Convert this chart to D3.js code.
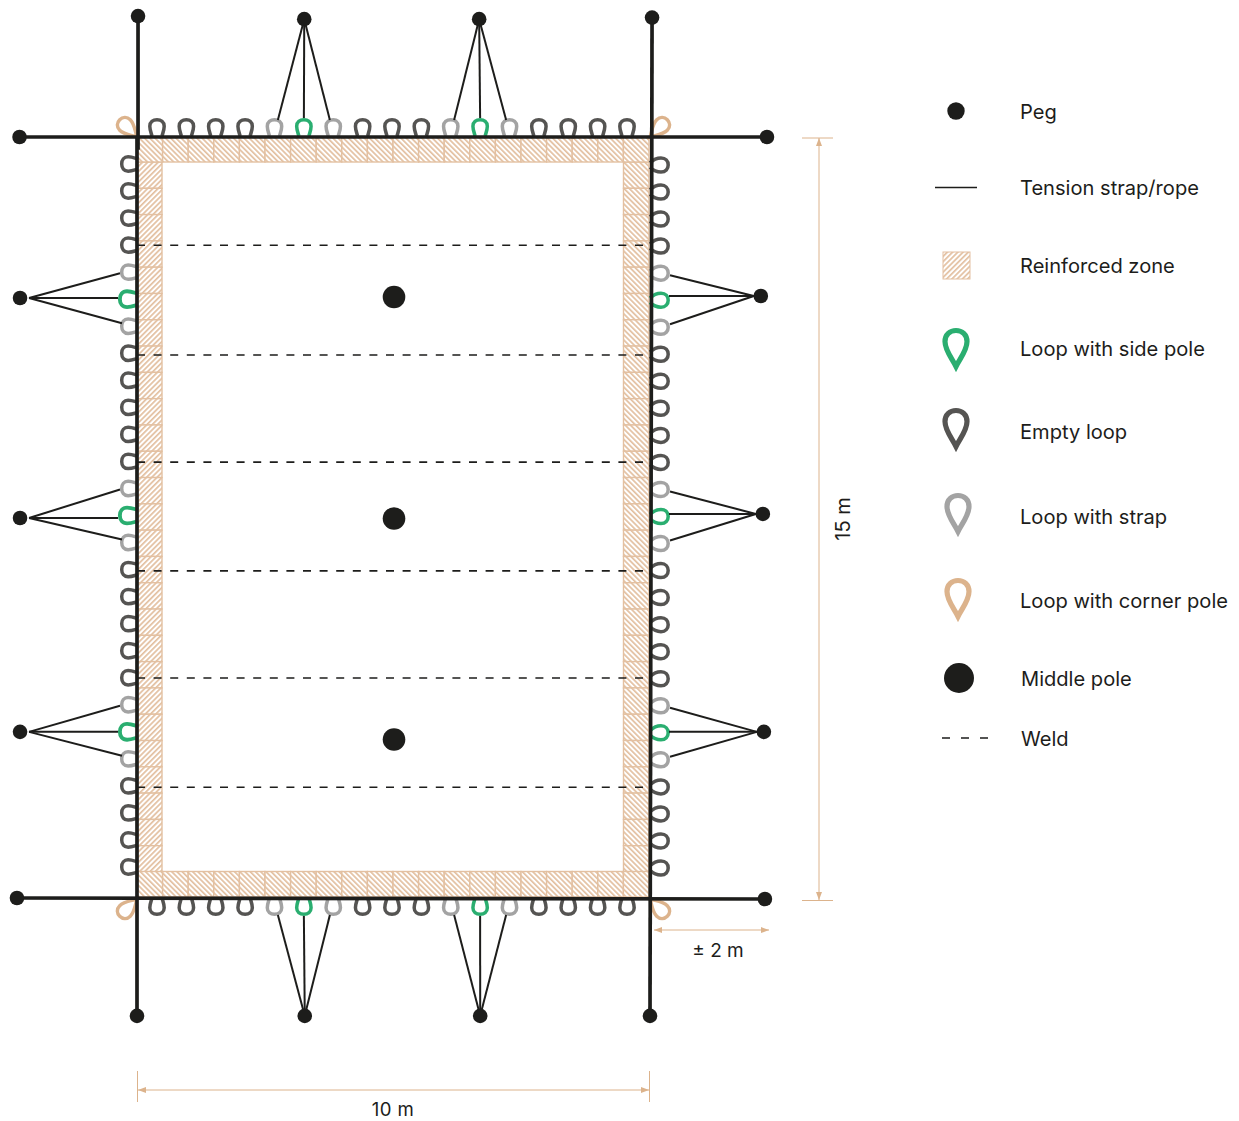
<!DOCTYPE html>
<html><head><meta charset="utf-8">
<script src="https://cdnjs.cloudflare.com/ajax/libs/d3/7.8.5/d3.min.js"></script>
<style>html,body{margin:0;padding:0;background:#fff}svg{display:block}text{font-family:Inter,"Open Sans",sans-serif;fill:#1d1d1b}</style>
</head><body><svg id="c" width="1239" height="1121"></svg>
<script>
// Values in metres unless noted; E empty, S strap, G side pole
const edgeLoopsTopBottom = "EEEESGSEEESGSEEEE".split("");
const edgeLoopsSides = "EEEESGSEEEEESGSEEEEESGSEEEE".split("");
const cornerPegs = [[0.02,-2.38],[-2.29,0],[10.04,-2.35],[12.28,0],[-2.34,14.98],[0,17.3],[12.24,15],[10,17.3]];
const frameLines = [[[-2.29,0],[12.28,0]],[[-2.34,14.98],[12.24,15]],[[0.02,-2.38],[0.02,0.25]],[[0,0],[0,17.3]],[[10.04,-2.35],[10,17.3]]];
const weldPositions = [2.13,4.29,6.40,8.54,10.65,12.80];
const middlePoles = [3.15,7.51,11.86];
const fansTop = [{peg:[3.26,-2.32],at:5},{peg:[6.67,-2.32],at:11}];
const fansBottom = [{peg:[3.27,17.3],at:5},{peg:[6.69,17.3],at:11}];
const fansLeft = [{peg:[-2.28,3.17],at:5},{peg:[-2.28,7.5],at:13},{peg:[-2.28,11.71],at:21}];
const fansRight = [{peg:[12.16,3.13],at:5},{peg:[12.2,7.42],at:13},{peg:[12.22,11.71],at:21}];
const zoneCellsLong = 20, zoneCellsShort = 27;
const legendItems = ["Peg","Tension strap/rope","Reinforced zone","Loop with side pole","Empty loop","Loop with strap","Loop with corner pole","Middle pole","Weld"];
const dimLabels = ["15 m","± 2 m","10 m"];

const svg = d3.select("#c");
const BLACK="#1d1d1b", DARK="#555452", GREY="#a3a3a3", GREEN="#2aae70", TAN="#dcb38c", HATCH="#e3c0a1";
const x = d3.scaleLinear().domain([0,10]).range([137,650]);
const y = d3.scaleLinear().domain([0,15]).range([137,899]);
const loopX = d3.scalePoint().domain(d3.range(17)).range([157,627]);
const loopYL = d3.scalePoint().domain(d3.range(27)).range([164,867]);
const loopYR = d3.scalePoint().domain(d3.range(27)).range([165,868]);
const col = {E:DARK,S:GREY,G:GREEN};

const defs = svg.append("defs");
function hatch(id,a){
  const p=defs.append("pattern").attr("id",id).attr("patternUnits","userSpaceOnUse").attr("width",3.7).attr("height",3.7).attr("patternTransform",`rotate(${a})`);
  p.append("rect").attr("width",3.7).attr("height",3.7).attr("fill","#fff");
  p.append("rect").attr("width",1.7).attr("height",3.7).attr("fill",HATCH);
}
hatch("hA",-45); hatch("hB",45);

// reinforced zone
const zone = svg.append("g");
function cells(band,cross,horizontal,fill){
  zone.selectAll(null).data(band.domain()).join("rect")
    .attr("x",d=>horizontal?band(d):cross[0]).attr("y",d=>horizontal?cross[0]:band(d))
    .attr("width",d=>horizontal?band.bandwidth():cross[1]-cross[0]).attr("height",d=>horizontal?cross[1]-cross[0]:band.bandwidth())
    .attr("fill",`url(#${fill})`).attr("stroke",HATCH).attr("stroke-width",1.4);
}
const bandH=d3.scaleBand().domain(d3.range(zoneCellsLong)).range([137,649]);
const bandV=d3.scaleBand().domain(d3.range(zoneCellsShort)).range([162,872]);
cells(bandV,[137,162],false,"hB");
cells(bandV,[623.5,649],false,"hA");
cells(bandH,[137,162],true,"hA");
cells(bandH,[871.5,897],true,"hA");

// welds
svg.append("g").selectAll("line").data(weldPositions).join("line")
  .attr("x1",x(0)).attr("x2",x(10)).attr("y1",d=>y(d)).attr("y2",d=>y(d))
  .attr("stroke",BLACK).attr("stroke-width",1.6).attr("stroke-dasharray","8 8.6");

// middle poles
svg.append("g").selectAll("circle").data(middlePoles).join("circle")
  .attr("cx",x(5.01)).attr("cy",d=>y(d)).attr("r",11.3).attr("fill",BLACK);

// loops
function openLoop(b,w,h){const p=d3.path();p.moveTo(-b,1);p.bezierCurveTo(-w+1,-3,-w,-h*0.35,-w,-h*0.58);p.bezierCurveTo(-w,-h*0.85,-w*0.55,-h,0,-h);p.bezierCurveTo(w*0.55,-h,w,-h*0.85,w,-h*0.58);p.bezierCurveTo(w,-h*0.35,w-1,-3,b,1);return p.toString();}
const wideLoop=openLoop(5,7.2,15.3), tipLoop=openLoop(2.2,7,17.2);
function loops(data,pos,rot,shape){
  svg.append("g").selectAll("path").data(data).join("path")
    .attr("d",shape).attr("fill","none").attr("stroke",d=>col[d]).attr("stroke-width",3.5)
    .attr("transform",(d,i)=>{const [a,b]=pos(i);return `translate(${a},${b}) rotate(${rot}) ${d==="G"&&rot===-90?"scale(1.1,1.12)":""}`;});
}
loops(edgeLoopsTopBottom,i=>[loopX(i),135],0,wideLoop);
loops(edgeLoopsTopBottom,i=>[loopX(i),899],180,wideLoop);
loops(edgeLoopsSides,i=>[137,loopYL(i)],-90,wideLoop);
loops(edgeLoopsSides,i=>[651,loopYR(i)],90,tipLoop);

// teardrop
const dropPath=(()=>{const p=d3.path();p.moveTo(0,0);p.bezierCurveTo(-4,-8,-11,-16,-11,-25);p.bezierCurveTo(-11,-32,-6,-36,0,-36);p.bezierCurveTo(6,-36,11,-32,11,-25);p.bezierCurveTo(11,-16,4,-8,0,0);p.closePath();return p.toString();})();
// corner loops
const cornerLoops=[[0,0,-45],[10,0,45],[0,15,-135],[10,15,135]];
svg.append("g").selectAll("path").data(cornerLoops).join("path")
  .attr("d",dropPath).attr("fill","none").attr("stroke",TAN).attr("stroke-width",3.4).attr("vector-effect","non-scaling-stroke")
  .attr("transform",d=>`translate(${x(d[0])},${y(d[1])}) rotate(${d[2]}) scale(0.68)`);

// fans
const thin = svg.append("g").attr("stroke",BLACK).attr("stroke-width",2).attr("fill","none");
function fan(peg,ends){ends.forEach(e=>thin.append("line").attr("x1",peg[0]).attr("y1",peg[1]).attr("x2",e[0]).attr("y2",e[1]));}
fansTop.forEach(f=>{const c=loopX(f.at);fan([x(f.peg[0]),y(f.peg[1])],[[c-26,120],[c,118],[c+26,120]]);});
fansBottom.forEach(f=>{const c=loopX(f.at);fan([x(f.peg[0]),y(f.peg[1])],[[c-26,915],[c,916],[c+26,915]]);});
fansLeft.forEach(f=>{const c=loopYL(f.at),a=[x(f.peg[0])+9,y(f.peg[1])];fan(a,[[120,c-26],[118,a[1]],[122,c+24]]);});
fansRight.forEach(f=>{const c=loopYR(f.at),a=[x(f.peg[0])-7,y(f.peg[1])];fan(a,[[670,c-25],[669,a[1]],[670,c+24]]);});

// frame
svg.append("g").selectAll("line").data(frameLines).join("line")
  .attr("x1",d=>x(d[0][0])).attr("y1",d=>y(d[0][1])).attr("x2",d=>x(d[1][0])).attr("y2",d=>y(d[1][1]))
  .attr("stroke",BLACK).attr("stroke-width",3.7);

// pegs
const allPegs=[...cornerPegs,...[...fansTop,...fansBottom,...fansLeft,...fansRight].map(f=>f.peg)];
svg.append("g").selectAll("circle").data(allPegs).join("circle")
  .attr("cx",d=>x(d[0])).attr("cy",d=>y(d[1])).attr("r",7.3).attr("fill",BLACK);

// dimensions
const dim=svg.append("g").attr("stroke",TAN).attr("stroke-width",1).attr("fill","none");
function seg(a,b,c,d){dim.append("line").attr("x1",a).attr("y1",b).attr("x2",c).attr("y2",d);}
function arrow(px,py,dx,dy){svg.append("path").attr("d",d3.line()([[px,py],[px-dx*8-dy*3,py-dy*8-dx*3],[px-dx*8+dy*3,py-dy*8+dx*3]])+"Z").attr("fill",TAN);}
seg(x(0)+1,1090,x(10),1090);seg(137.5,1071,137.5,1102);seg(649.5,1071,649.5,1102);arrow(138,1090,-1,0);arrow(649,1090,1,0);
seg(819,138,819,900);seg(802,138,833,138);seg(802,900.5,833,900.5);arrow(819,138,0,-1);arrow(819,900,0,1);
seg(654,930,769,930);arrow(654,930,-1,0);arrow(769,930,1,0);
svg.append("text").attr("transform","translate(849.5,519) rotate(-90)").attr("text-anchor","middle").attr("font-size",20).text(dimLabels[0]);
svg.append("text").attr("x",718).attr("y",957).attr("text-anchor","middle").attr("font-size",19).text(dimLabels[1]);
svg.append("text").attr("x",393).attr("y",1116).attr("text-anchor","middle").attr("font-size",18.6).attr("letter-spacing",0.4).text(dimLabels[2]);

// legend
const ly=d3.scaleOrdinal().domain(legendItems).range([119,195,273,356,439,524,608,686,746]);
const lx=d3.scaleOrdinal().domain(legendItems).range([1020,1020,1020,1020,1020,1020,1020,1021,1021]);
svg.append("g").selectAll("text").data(legendItems).join("text")
  .attr("x",d=>lx(d)).attr("y",d=>ly(d)).attr("font-size",20.1).text(d=>d);
svg.append("circle").attr("cx",956).attr("cy",111).attr("r",8.7).attr("fill",BLACK);
svg.append("line").attr("x1",935).attr("x2",977).attr("y1",187.5).attr("y2",187.5).attr("stroke",BLACK).attr("stroke-width",1.3);
svg.append("rect").attr("x",943).attr("y",252).attr("width",27).attr("height",27).attr("fill","url(#hB)").attr("stroke",HATCH).attr("stroke-width",1);
[[956,366.5,GREEN],[956,446.5,DARK],[958,531.5,GREY],[958,616.5,TAN]].forEach(d=>{
  svg.append("path").attr("d",dropPath).attr("fill","none").attr("stroke",d[2]).attr("stroke-width",5.2).attr("transform",`translate(${d[0]},${d[1]})`);
});
svg.append("circle").attr("cx",959).attr("cy",678).attr("r",15).attr("fill",BLACK);
svg.append("line").attr("x1",942).attr("x2",989).attr("y1",738).attr("y2",738).attr("stroke",BLACK).attr("stroke-width",1.5).attr("stroke-dasharray","8 11");
</script></body></html>
